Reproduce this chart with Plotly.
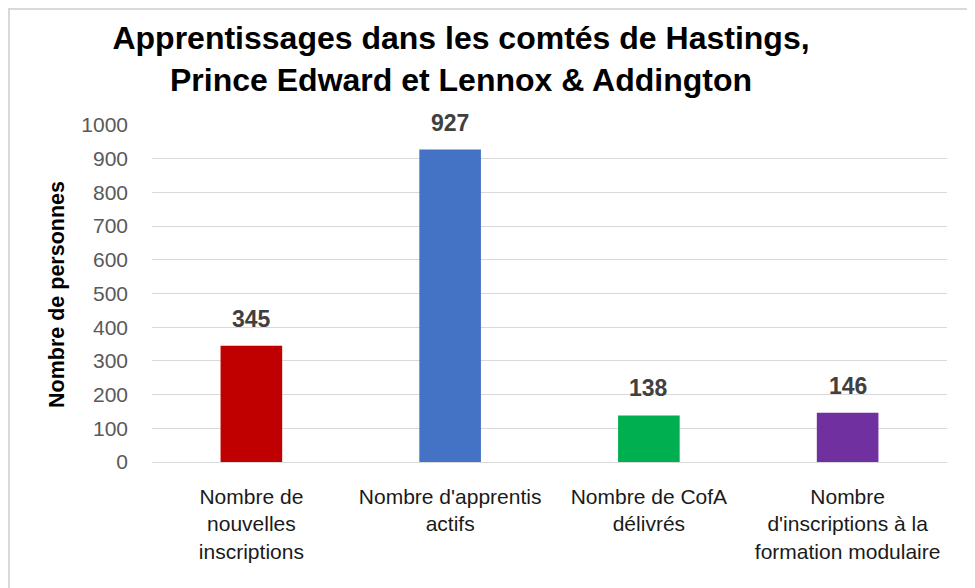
import plotly.graph_objects as go

categories = [
    "Nombre de<br>nouvelles<br>inscriptions",
    "Nombre d'apprentis<br>actifs",
    "Nombre de CofA<br>délivrés",
    "Nombre<br>d'inscriptions à la<br>formation modulaire",
]
values = [345, 927, 138, 146]
colors = ["#C00000", "#4472C4", "#00B050", "#7030A0"]
y_ticks = list(range(0, 1001, 100))

# the page body adds an 8px offset, so the figure is drawn 8px smaller
W, H = 967, 580
L, R, T, B = 144, 28, 117, 126
pw = W - L - R
ph = H - T - B


def px_x(x):
    return (x - L) / pw


def px_y(y):
    return (H - B - y) / ph


FONT = "Liberation Sans, Arial"

fig = go.Figure()
fig.add_trace(go.Bar(
    x=categories, y=values, marker=dict(color=colors, line=dict(width=0)),
    hoverinfo="skip",
))

for c, v in zip(categories, values):
    fig.add_annotation(
        x=c, y=v, text=f"<b>{v}</b>", showarrow=False, yanchor="bottom",
        yshift=12, font=dict(family=FONT, size=23, color="#404040"),
    )

fig.add_annotation(
    x=px_x(49), y=px_y(287), xref="paper", yref="paper", text="<b>Nombre de personnes</b>",
    textangle=-90, showarrow=False, xanchor="center", yanchor="middle",
    font=dict(family=FONT, size=21.5, color="#000000"),
)

# light frame of the chart (left, top, right edges)
frame = dict(color="#D9D9D9", width=2)
fig.add_shape(type="line", xref="paper", yref="paper",
              x0=px_x(1), x1=px_x(1), y0=px_y(0), y1=px_y(H), line=frame)
fig.add_shape(type="line", xref="paper", yref="paper",
              x0=px_x(0), x1=px_x(965), y0=px_y(1), y1=px_y(1), line=frame)
fig.add_shape(type="line", xref="paper", yref="paper",
              x0=px_x(964), x1=px_x(964), y0=px_y(0), y1=px_y(H), line=frame)

fig.update_layout(
    width=W, height=H,
    margin=dict(l=L, r=R, t=T, b=B),
    paper_bgcolor="white", plot_bgcolor="white",
    bargap=0.69, showlegend=False,
    title=dict(
        text="<b>Apprentissages dans les comtés de Hastings,<br>Prince Edward et Lennox & Addington</b>",
        x=453 / W, xanchor="center", y=1 - 41 / H, yanchor="top",
        font=dict(family=FONT, size=32, color="#000000"),
    ),
    font=dict(family=FONT),
)
fig.update_yaxes(
    range=[0, 1000], tickvals=y_ticks, showgrid=True, gridcolor="#D9D9D9", gridwidth=1.3,
    zeroline=True, zerolinecolor="#D9D9D9", zerolinewidth=1.3, showline=False,
    tickfont=dict(family=FONT, size=21, color="#595959"),
    ticklabelstandoff=23, fixedrange=True,
)
fig.update_xaxes(
    showline=False, showgrid=False,
    tickfont=dict(family=FONT, size=21, color="#1a1a1a"),
    ticklabelstandoff=20, tickangle=0, fixedrange=True,
)
fig.write_html("out.html")
